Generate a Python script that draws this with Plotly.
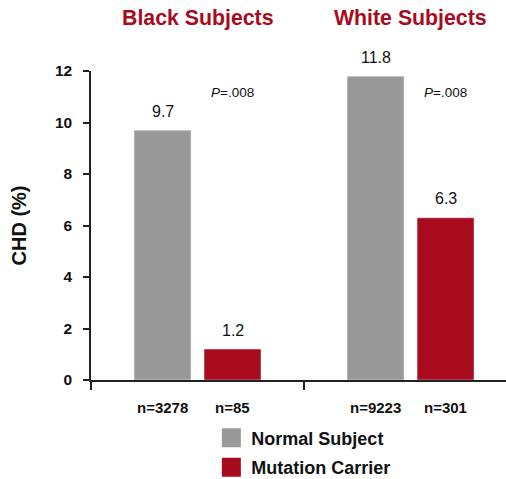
import plotly.graph_objects as go

# ---- data ----
groups = ["Black Subjects", "White Subjects"]
series_names = ["Normal Subject", "Mutation Carrier"]
normal_chd = [9.7, 11.8]
carrier_chd = [1.2, 6.3]
normal_n = ["n=3278", "n=9223"]
carrier_n = ["n=85", "n=301"]
p_values = ["<i>P</i>=.008", "<i>P</i>=.008"]
y_ticks = [0, 2, 4, 6, 8, 10, 12]

GRAY = "#999999"
RED = "#A80B1E"
FONT = "Arial, Liberation Sans, sans-serif"
BARGAP = 0.343
BARGROUPGAP = 0.186
OFF = (1 - BARGAP) / 4  # centre offset of each bar within its group
P_LABEL_Y = 11.15

fig = go.Figure()
fig.add_trace(go.Bar(x=groups, y=normal_chd, name=series_names[0],
                     marker_color=GRAY, showlegend=False))
fig.add_trace(go.Bar(x=groups, y=carrier_chd, name=series_names[1],
                     marker_color=RED, showlegend=False))

# legend entries (bigger swatches than bar legend symbols allow)
for i, (nm, col) in enumerate(zip(series_names, [GRAY, RED])):
    fig.add_trace(go.Scatter(x=[None], y=[None], mode="markers", name=nm,
                             legendgroup=str(i),
                             marker=dict(symbol="square", size=16, color=col,
                                         line=dict(color=col, width=3))))

ann = []
for gi, g in enumerate(groups):
    # group titles
    ann.append(dict(x=gi, xref="x", y=1.1715, yref="paper", text=f"<b>{g}</b>",
                    showarrow=False, font=dict(size=21.3, color=RED, family=FONT),
                    yanchor="middle"))
    # value labels
    for off, vals in [(-OFF, normal_chd), (OFF, carrier_chd)]:
        ann.append(dict(x=gi + off, xref="x", y=vals[gi], yref="y",
                        text=f"{vals[gi]:.1f}", showarrow=False,
                        font=dict(size=16, color="#111", family=FONT),
                        yanchor="middle", yshift=19))
    # n labels
    for off, labs in [(-OFF, normal_n), (OFF, carrier_n)]:
        ann.append(dict(x=gi + off, xref="x", y=0, yref="y",
                        text=f"<b>{labs[gi]}</b>", showarrow=False,
                        font=dict(size=15, color="#111", family=FONT),
                        yanchor="middle", yshift=-27))
    # p values
    ann.append(dict(x=gi + OFF, xref="x", y=P_LABEL_Y, yref="y",
                    text=p_values[gi], showarrow=False,
                    font=dict(size=13.5, color="#111", family=FONT),
                    yanchor="middle"))

fig.update_layout(
    width=506, height=479,
    margin=dict(l=91, r=0, t=71, b=99, autoexpand=False),
    paper_bgcolor="white", plot_bgcolor="white",
    barmode="group", bargap=BARGAP, bargroupgap=BARGROUPGAP,
    font=dict(family=FONT, color="#111"),
    annotations=ann,
    showlegend=True,
    legend=dict(x=0.29, y=-0.128, xanchor="left", yanchor="top",
                font=dict(size=18, family=FONT, color="#111", weight="bold"),
                tracegroupgap=3, traceorder="grouped",
                bgcolor="rgba(0,0,0,0)"),
    xaxis=dict(type="category", range=[-0.5, 1.448], showticklabels=False,
               showline=True, linecolor="#222", linewidth=1.5,
               ticks="outside", tickson="boundaries", ticklen=8,
               tickcolor="#222", tickwidth=1.5, showgrid=False, zeroline=False,
               automargin=False, fixedrange=True),
    yaxis=dict(range=[0, 12], tickvals=y_ticks, showline=True,
               linecolor="#222", linewidth=1.5, ticks="outside", ticklen=6,
               tickcolor="#222", tickwidth=1.5, showgrid=False, zeroline=False,
               automargin=False, fixedrange=True,
               tickfont=dict(size=15.5, family=FONT, color="#111", weight="bold"),
               ticklabelstandoff=8,
               title=dict(text="<b>CHD (%)</b>", standoff=23,
                          font=dict(size=20, family=FONT, color="#111"))),
)

fig.write_html("out.html",
               config={"displayModeBar": False},
               post_script="document.body.style.margin='0';"
                           "document.body.style.overflow='hidden';")
